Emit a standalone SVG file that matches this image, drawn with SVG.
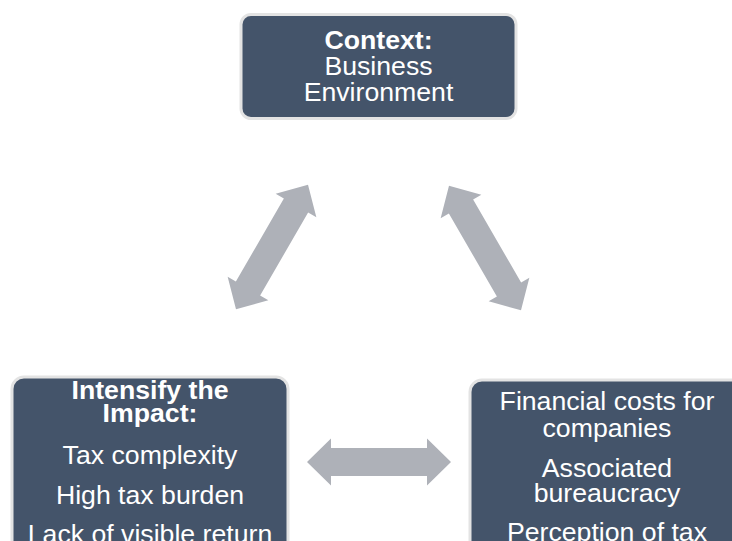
<svg xmlns="http://www.w3.org/2000/svg" width="732" height="541" viewBox="0 0 732 541">
  <style>
    .box { fill: #44546a; stroke: #e3e3e3; stroke-width: 3; }
    .lbl { font-family: "Liberation Sans", Arial, sans-serif; font-size: 26.67px; fill: #ffffff; text-anchor: middle; }
    .b { font-weight: bold; }
    .arrow { fill: #aeb1b8; }
  </style>
  <defs>
    <!-- double-headed block arrow, centred on the origin, pointing along x -->
    <path id="dblArrow" d="M -72 0 L -48 -23.5 L -48 -14 L 48 -14 L 48 -23.5 L 72 0 L 48 23.5 L 48 14 L -48 14 L -48 23.5 Z"/>
  </defs>
  <rect width="732" height="541" fill="#ffffff"/>

  <g id="connectors" class="arrow">
    <use href="#dblArrow" transform="translate(272 247) rotate(-60)"/>
    <use href="#dblArrow" transform="translate(485 248) rotate(60)"/>
    <use href="#dblArrow" transform="translate(379 462)"/>
  </g>

  <g id="context">
    <rect class="box" x="241" y="14.5" width="275" height="104" rx="10"/>
    <text class="lbl b" x="378.5" y="49">Context:</text>
    <text class="lbl" x="378.5" y="75">Business</text>
    <text class="lbl" x="378.5" y="101">Environment</text>
  </g>

  <g id="intensify">
    <rect class="box" x="12" y="377" width="276" height="190" rx="12"/>
    <text class="lbl b" x="150" y="399">Intensify the</text>
    <text class="lbl b" x="150" y="422">Impact:</text>
    <text class="lbl" x="150" y="464">Tax complexity</text>
    <text class="lbl" x="150" y="504">High tax burden</text>
    <text class="lbl" x="150" y="543">Lack of visible return</text>
  </g>

  <g id="costs">
    <rect class="box" x="470" y="380" width="276" height="190" rx="12"/>
    <text class="lbl" x="607" y="410">Financial costs for</text>
    <text class="lbl" x="607" y="437">companies</text>
    <text class="lbl" x="607" y="477">Associated</text>
    <text class="lbl" x="607" y="502">bureaucracy</text>
    <text class="lbl" x="607" y="541">Perception of tax</text>
  </g>
</svg>
